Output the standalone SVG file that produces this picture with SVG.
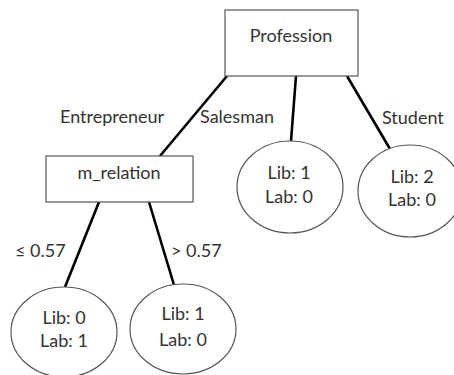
<svg xmlns="http://www.w3.org/2000/svg" width="454" height="375" viewBox="0 0 454 375">
<style>
.box{fill:#fff;stroke:#555;stroke-width:1.2}
.leaf{fill:#fff;stroke:#555;stroke-width:1.2}
.edge{stroke:#000;stroke-width:2.6;fill:none}
text{font-family:Lato,"Liberation Sans",sans-serif;font-size:18px;fill:#333;text-anchor:middle}
.lbl{text-anchor:start}
</style>
<rect width="454" height="375" fill="#fff"/>
<g id="connectors">
<line class="edge" x1="227" y1="76" x2="160" y2="156"/>
<line class="edge" x1="296" y1="76" x2="291" y2="141"/>
<line class="edge" x1="347" y1="76" x2="390" y2="149"/>
<line class="edge" x1="99" y1="202" x2="65" y2="287"/>
<line class="edge" x1="149" y1="202" x2="174" y2="285"/>
<text class="lbl" x="60" y="123">Entrepreneur</text>
<text class="lbl" x="200" y="123">Salesman</text>
<text class="lbl" x="382" y="124">Student</text>
<text class="lbl" x="15" y="257">≤ 0.57</text>
<text class="lbl" x="171" y="257">&gt; 0.57</text>
</g>
<g id="profession">
<rect class="box" x="225" y="10" width="133" height="66"/>
<text x="291" y="42">Profession</text>
</g>
<g id="m_relation">
<rect class="box" x="46" y="156" width="147" height="46"/>
<text x="119" y="179">m_relation</text>
</g>
<g id="leaf_salesman">
<ellipse class="leaf" cx="290" cy="187" rx="53" ry="46"/>
<text x="289" y="179">Lib: 1</text>
<text x="289" y="203">Lab: 0</text>
</g>
<g id="leaf_student">
<ellipse class="leaf" cx="410" cy="191" rx="52" ry="46"/>
<text x="412" y="183">Lib: 2</text>
<text x="412" y="206">Lab: 0</text>
</g>
<g id="leaf_le">
<ellipse class="leaf" cx="64" cy="332" rx="53" ry="45"/>
<text x="64" y="324">Lib: 0</text>
<text x="64" y="347">Lab: 1</text>
</g>
<g id="leaf_gt">
<ellipse class="leaf" cx="183" cy="329" rx="53" ry="45"/>
<text x="183" y="320">Lib: 1</text>
<text x="183" y="346">Lab: 0</text>
</g>
</svg>
